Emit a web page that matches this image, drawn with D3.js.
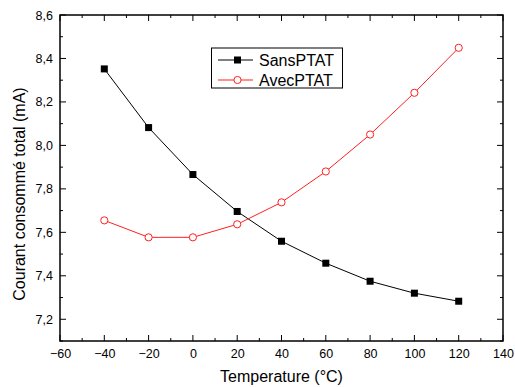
<!DOCTYPE html>
<html><head><meta charset="utf-8">
<script src="https://cdn.jsdelivr.net/npm/d3@7"></script>
<style>body{margin:0;background:#fff}svg{display:block}text{font-family:Arial,"Liberation Sans",sans-serif}</style>
</head><body>
<svg id="c" width="515" height="387"></svg>
<script>
const temps = [-40, -20, 0, 20, 40, 60, 80, 100, 120];
const sansPTAT = [8.352, 8.082, 7.866, 7.696, 7.559, 7.458, 7.375, 7.32, 7.283];
const avecPTAT = [7.655, 7.577, 7.577, 7.637, 7.738, 7.88, 8.05, 8.242, 8.449];
const xTicks = [-60, -40, -20, 0, 20, 40, 60, 80, 100, 120, 140];
const yTicks = [7.2, 7.4, 7.6, 7.8, 8.0, 8.2, 8.4, 8.6];
const seriesNames = ["SansPTAT", "AvecPTAT"];

const svg = d3.select("#c");
const L = 60, R = 503, T = 15, B = 341;
const x = d3.scaleLinear().domain([-60, 140]).range([L, R]);
const y = d3.scaleLinear().domain([7.1, 8.6]).range([B, T]);
const fmt = d => d3.format(".1f")(d).replace(".", ",");

const xMinor = d3.range(-60, 141, 10);
const yMinor = d3.range(71, 87, 1).map(v => v / 10);

const gB = svg.append("g").attr("transform", `translate(0,${B})`)
  .call(d3.axisBottom(x).tickValues(xTicks).tickSize(0).tickPadding(8).tickFormat(d3.format("d")));
gB.select(".domain").remove();
gB.selectAll("text").attr("font-size", 12.5).attr("fill", "#000");
const gL = svg.append("g").attr("transform", `translate(${L},0)`)
  .call(d3.axisLeft(y).tickValues(yTicks).tickSize(0).tickPadding(7).tickFormat(fmt));
gL.select(".domain").remove();
gL.selectAll("text").attr("font-size", 12.5).attr("fill", "#000");

const tk = svg.append("g").attr("stroke", "#000").attr("stroke-width", 1);
xMinor.forEach(v => {
  const len = (v % 20 === 0) ? 6 : 3;
  tk.append("line").attr("x1", x(v)).attr("x2", x(v)).attr("y1", B).attr("y2", B - len);
  tk.append("line").attr("x1", x(v)).attr("x2", x(v)).attr("y1", T).attr("y2", T + len);
});
yMinor.forEach(v => {
  const major = Math.round(v * 10) % 2 === 0;
  const len = major ? 6 : 3;
  tk.append("line").attr("x1", L).attr("x2", L + len).attr("y1", y(v)).attr("y2", y(v));
  tk.append("line").attr("x1", R).attr("x2", R - len).attr("y1", y(v)).attr("y2", y(v));
});
svg.append("rect").attr("x", L).attr("y", T).attr("width", R - L).attr("height", B - T)
  .attr("fill", "none").attr("stroke", "#000").attr("stroke-width", 1.5);

const line = d3.line().x((d, i) => x(temps[i])).y(d => y(d));
svg.append("path").datum(sansPTAT).attr("d", line).attr("fill", "none").attr("stroke", "#000").attr("stroke-width", 1);
svg.append("path").datum(avecPTAT).attr("d", line).attr("fill", "none").attr("stroke", "#ff2020").attr("stroke-width", 1);
svg.append("g").selectAll("rect").data(sansPTAT).join("rect")
  .attr("x", (d, i) => x(temps[i]) - 3.5).attr("y", d => y(d) - 3.5)
  .attr("width", 7).attr("height", 7).attr("fill", "#000");
svg.append("g").selectAll("circle").data(avecPTAT).join("circle")
  .attr("cx", (d, i) => x(temps[i])).attr("cy", d => y(d)).attr("r", 3.6)
  .attr("fill", "#fff").attr("stroke", "#ff2020").attr("stroke-width", 1);

const lg = svg.append("g");
lg.append("rect").attr("x", 211.5).attr("y", 48).attr("width", 131).attr("height", 40)
  .attr("fill", "#fff").attr("stroke", "#000").attr("stroke-width", 1);
[0, 1].forEach(i => {
  const yy = 60 + i * 20;
  const col = i === 0 ? "#000" : "#ff2020";
  lg.append("line").attr("x1", 218).attr("x2", 253).attr("y1", yy).attr("y2", yy).attr("stroke", col);
  if (i === 0) lg.append("rect").attr("x", 234).attr("y", yy - 3.5).attr("width", 7).attr("height", 7).attr("fill", "#000");
  else lg.append("circle").attr("cx", 237.5).attr("cy", yy).attr("r", 3.6).attr("fill", "#fff").attr("stroke", col);
  lg.append("text").attr("x", 259).attr("y", yy + 6).attr("font-size", 16).text(seriesNames[i]);
});

svg.append("text").attr("x", (L + R) / 2).attr("y", 382).attr("text-anchor", "middle").attr("font-size", 16).text("Temperature (°C)");
svg.append("text").attr("transform", `translate(25,${(T + B) / 2 + 16}) rotate(-90)`).attr("text-anchor", "middle").attr("font-size", 16).text("Courant consommé total (mA)");
</script>
</body></html>
